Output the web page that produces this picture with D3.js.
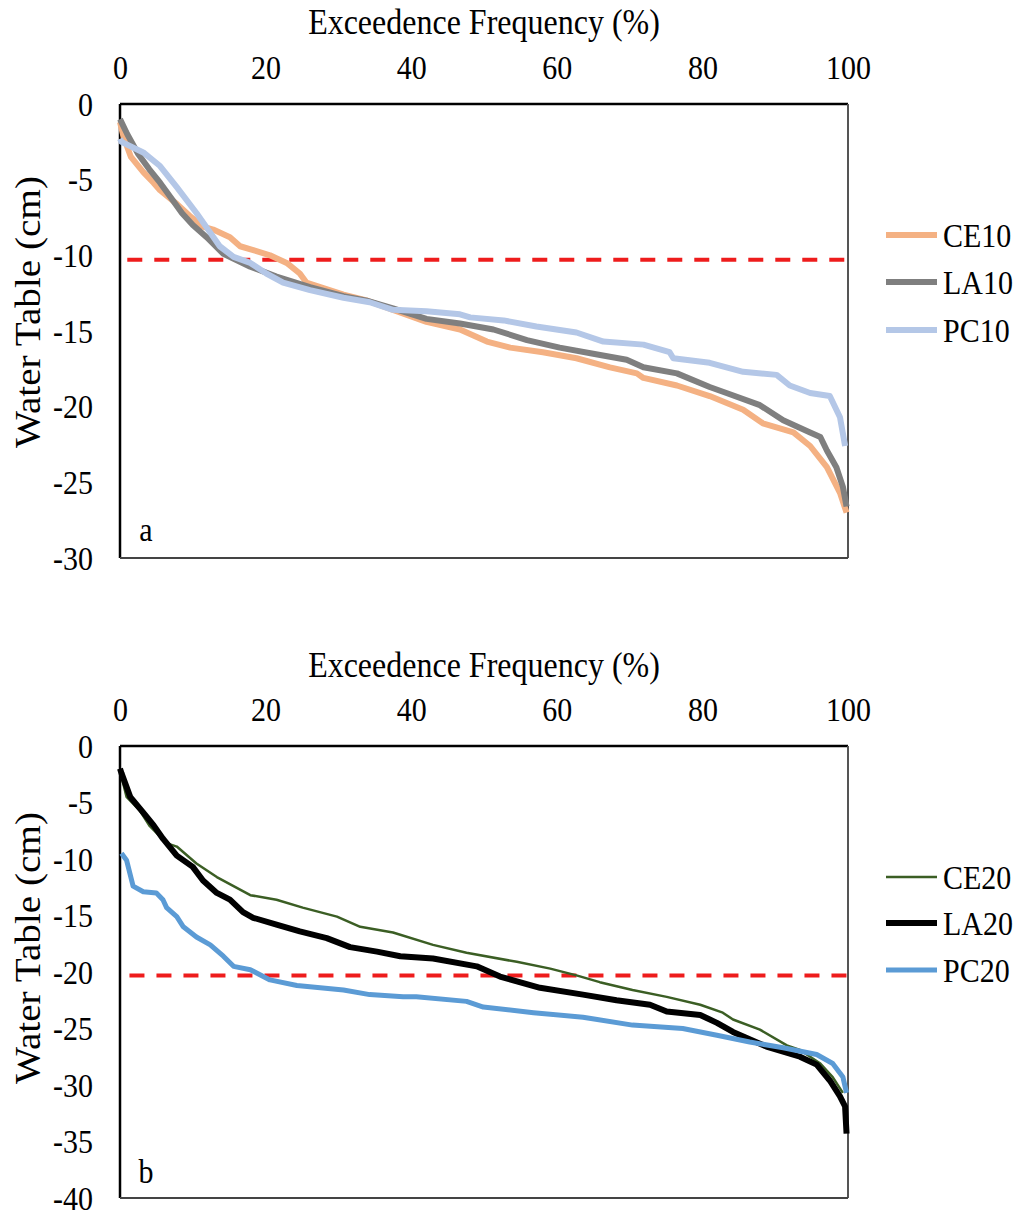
<!DOCTYPE html>
<html><head><meta charset="utf-8">
<script src="https://cdn.jsdelivr.net/npm/d3@7/dist/d3.min.js"></script>
<style>
html,body{margin:0;padding:0;background:#fff;}
svg{display:block;}
text{font-family:"Liberation Serif","Times New Roman",serif;fill:#000;}
</style></head>
<body>
<svg id="chart" width="1019" height="1216"></svg>
<script>
// ---------- data ----------
const xTicks = [0, 20, 40, 60, 80, 100];
const yTicksA = [0, -5, -10, -15, -20, -25, -30];
const yTicksB = [0, -5, -10, -15, -20, -25, -30, -35, -40];
const xTitle = "Exceedence Frequency (%)";
const yTitle = "Water Table (cm)";

// Panel a: [exceedence %, water table cm]
const CE10 = [[0,-1.2],[0.5,-2.2],[1.5,-3.5],[3.2,-4.5],[4.6,-5.2],[5.5,-5.7],[7.8,-6.6],[9.6,-7.4],[11.4,-8.1],[12.8,-8.3],[15.1,-8.8],[16.5,-9.4],[18.3,-9.65],[20.6,-10.0],[22.9,-10.5],[24.7,-11.2],[25.6,-11.8],[30.7,-12.6],[34,-13.0],[37.5,-13.6],[42.1,-14.4],[46.7,-14.9],[50.4,-15.7],[53.6,-16.1],[58.1,-16.4],[62.7,-16.8],[67.3,-17.4],[71,-17.8],[71.9,-18.1],[76.5,-18.6],[81,-19.3],[85.6,-20.2],[88.3,-21.1],[92.5,-21.7],[94.8,-22.6],[97.1,-24.0],[98.9,-25.7],[99.8,-27.0]];
const LA10 = [[0,-1.0],[1,-2.0],[2.5,-3.3],[4,-4.3],[5.5,-5.2],[7,-6.2],[8.5,-7.2],[10,-8.0],[11.9,-8.8],[14.2,-9.9],[17.9,-10.75],[21.5,-11.4],[26.1,-12.1],[30.7,-12.7],[33.9,-13.0],[37.5,-13.5],[42.1,-14.2],[46.7,-14.5],[51.3,-14.9],[55.9,-15.6],[60.4,-16.1],[65,-16.5],[69.6,-16.9],[71.9,-17.4],[76.5,-17.8],[81,-18.7],[83.3,-19.1],[87.9,-19.9],[91.1,-20.9],[94.8,-21.7],[96.2,-22.0],[97.1,-22.9],[98.4,-24.0],[99.3,-25.3],[99.8,-26.6]];
const PC10 = [[0,-2.3],[0.2,-2.5],[3.2,-3.2],[5.5,-4.1],[7.8,-5.5],[10.5,-7.2],[12.4,-8.5],[13.7,-9.4],[15.6,-10.1],[17.9,-10.5],[20.1,-11.2],[22.4,-11.8],[26.1,-12.3],[30.7,-12.8],[34.3,-13.1],[37.5,-13.6],[42.1,-13.7],[46.7,-13.9],[48.1,-14.1],[52.7,-14.3],[57.2,-14.7],[62.7,-15.1],[66.4,-15.7],[71.9,-15.9],[75.5,-16.4],[76,-16.8],[81,-17.1],[85.6,-17.7],[90.2,-17.9],[92,-18.6],[94.8,-19.1],[97.5,-19.3],[98.9,-20.7],[99.6,-22.6]];
const refA = [[1,-10.3],[100,-10.3]];

// Panel b
const CE20 = [[0,-2.3],[0.2,-2.7],[0.9,-4.5],[2.7,-5.7],[4.1,-7.1],[6.4,-8.6],[7.8,-8.9],[10.5,-10.4],[13.3,-11.6],[17.9,-13.2],[21.5,-13.6],[25.1,-14.3],[29.8,-15.1],[33,-16.0],[37.5,-16.5],[43,-17.6],[47.6,-18.3],[54.5,-19.1],[59.1,-19.7],[62.7,-20.3],[65.9,-20.9],[70.4,-21.6],[75.1,-22.2],[79.7,-22.9],[82.8,-23.6],[84.2,-24.2],[87.9,-25.1],[91.6,-26.5],[93.4,-26.9],[96.2,-28.1],[97.9,-29.3],[99.3,-30.7]];
const LA20 = [[0,-2.0],[0.2,-2.4],[1.4,-4.5],[3.2,-5.9],[4.6,-7.0],[5.9,-8.2],[7.8,-9.7],[10,-10.7],[11.4,-11.9],[13.3,-13.0],[15.1,-13.6],[16.9,-14.7],[18.3,-15.2],[21.5,-15.8],[24.7,-16.4],[28.4,-17.0],[31.6,-17.8],[35.3,-18.2],[38.5,-18.6],[43,-18.8],[49,-19.5],[52.2,-20.4],[57.7,-21.4],[63.6,-22.0],[68.2,-22.5],[72.8,-22.9],[75.1,-23.5],[79.7,-23.8],[82,-24.5],[84.2,-25.3],[88.8,-26.6],[93.4,-27.5],[95.7,-28.2],[97.5,-29.6],[98.9,-31.0],[99.6,-31.9],[99.8,-34.3]];
const PC20 = [[0.2,-9.5],[0.9,-10.1],[1.8,-12.4],[3.2,-12.9],[5.0,-13.0],[5.9,-13.6],[6.4,-14.3],[7.8,-15.1],[8.7,-16.0],[10.5,-16.9],[12.4,-17.6],[14.2,-18.6],[15.6,-19.5],[17.9,-19.8],[20.6,-20.7],[24.3,-21.2],[30.7,-21.6],[34.3,-22.0],[38.9,-22.2],[40.7,-22.2],[47.6,-22.6],[49.9,-23.1],[56.8,-23.6],[63.6,-24.0],[70.4,-24.7],[77.3,-25.0],[82,-25.6],[86.5,-26.2],[91.1,-26.7],[95.7,-27.3],[97.9,-28.1],[99.3,-29.3],[99.8,-30.7]];
const refB = [[1.3,-20.3],[100,-20.3]];

const seriesA = [
  {name:"CE10", data:CE10, color:"#F4B183", width:6},
  {name:"LA10", data:LA10, color:"#7F7F7F", width:6},
  {name:"PC10", data:PC10, color:"#B4C7E7", width:6}
];
const seriesB = [
  {name:"CE20", data:CE20, color:"#3B5E24", width:2.5},
  {name:"LA20", data:LA20, color:"#000000", width:6},
  {name:"PC20", data:PC20, color:"#5B9BD5", width:5}
];

const svg = d3.select("#chart");
const SY = 1.12; // vertical stretch of glyphs in the original

function stretchedText(g, x, y, str, opts) {
  opts = opts || {};
  const t = g.append("text")
    .attr("transform", `translate(${x},${y}) ${opts.rotate ? "rotate(-90) scale(" + SY + ",1)" : "scale(1," + SY + ")"}`)
    .attr("text-anchor", opts.anchor || "middle")
    .attr("dominant-baseline", "central")
    .style("font-size", (opts.size || 30) + "px")
    .text(str);
  return t;
}

function panel(cfg) {
  const {top, bottom, yDomain, yTicks, series, ref, label, legendYs, titleY, tickY, yLabelY} = cfg;
  const left = 120, right = 848;
  const x = d3.scaleLinear().domain([0, 100]).range([left, right]);
  const y = d3.scaleLinear().domain(yDomain).range([top, bottom]);
  const g = svg.append("g");

  // x axis (top), no ticks or line
  const xa = g.append("g").attr("transform", `translate(0,${tickY})`)
    .call(d3.axisTop(x).tickValues(xTicks).tickSize(0).tickPadding(0));
  xa.select(".domain").remove();
  xa.selectAll("text").remove();
  xa.selectAll(".tick").each(function(d){
    stretchedText(d3.select(this), 0, 0, d3.format("d")(d), {size:30});
  });

  // y axis (left)
  const ya = g.append("g").attr("transform", `translate(93,0)`)
    .call(d3.axisLeft(y).tickValues(yTicks).tickSize(0).tickPadding(0));
  ya.select(".domain").remove();
  ya.selectAll("text").remove();
  ya.selectAll(".tick").each(function(d){
    stretchedText(d3.select(this), 0, 0, d === 0 ? "0" : "-" + Math.abs(d), {size:30, anchor:"end"});
  });

  // titles
  stretchedText(g, 484, titleY, xTitle, {size:32});
  stretchedText(g, 28, yLabelY, yTitle, {size:35, rotate:true});

  // plot frame
  g.append("line").attr("x1", left).attr("x2", right).attr("y1", top).attr("y2", top)
    .attr("stroke", "#000").attr("stroke-width", 2.5);
  g.append("line").attr("x1", left).attr("x2", left).attr("y1", top).attr("y2", bottom)
    .attr("stroke", "#000").attr("stroke-width", 2.5);
  g.append("line").attr("x1", right).attr("x2", right).attr("y1", top).attr("y2", bottom)
    .attr("stroke", "#555", ).attr("stroke-width", 2);
  g.append("line").attr("x1", left).attr("x2", right).attr("y1", bottom).attr("y2", bottom)
    .attr("stroke", "#444").attr("stroke-width", 2);

  const line = d3.line().x(d => x(d[0])).y(d => y(d[1]));

  // reference dashed line
  g.append("path").datum(ref).attr("d", line)
    .attr("fill", "none").attr("stroke", "#EE1C1C").attr("stroke-width", 4)
    .attr("stroke-dasharray", "15,12");

  series.forEach(s => {
    g.append("path").datum(s.data).attr("d", line)
      .attr("fill", "none").attr("stroke", s.color).attr("stroke-width", s.width)
      .attr("stroke-linejoin", "round").attr("stroke-linecap", "butt");
  });

  // panel label
  stretchedText(g, 146, label.y, label.text, {size:30});

  // legend
  series.forEach((s, i) => {
    const ly = legendYs[i];
    g.append("line").attr("x1", 886).attr("x2", 937).attr("y1", ly).attr("y2", ly)
      .attr("stroke", s.color).attr("stroke-width", s.width);
    stretchedText(g, 943, ly + 1, s.name, {size:30, anchor:"start"});
  });
}

panel({top:104, bottom:558, yDomain:[0,-30], yTicks:yTicksA, series:seriesA, ref:refA,
  label:{text:"a", y:530}, legendYs:[235,282,330], titleY:22, tickY:68, yLabelY:312});
panel({top:746, bottom:1198, yDomain:[0,-40], yTicks:yTicksB, series:seriesB, ref:refB,
  label:{text:"b", y:1172}, legendYs:[877,923,970], titleY:665, tickY:710, yLabelY:948});
</script>
</body></html>
